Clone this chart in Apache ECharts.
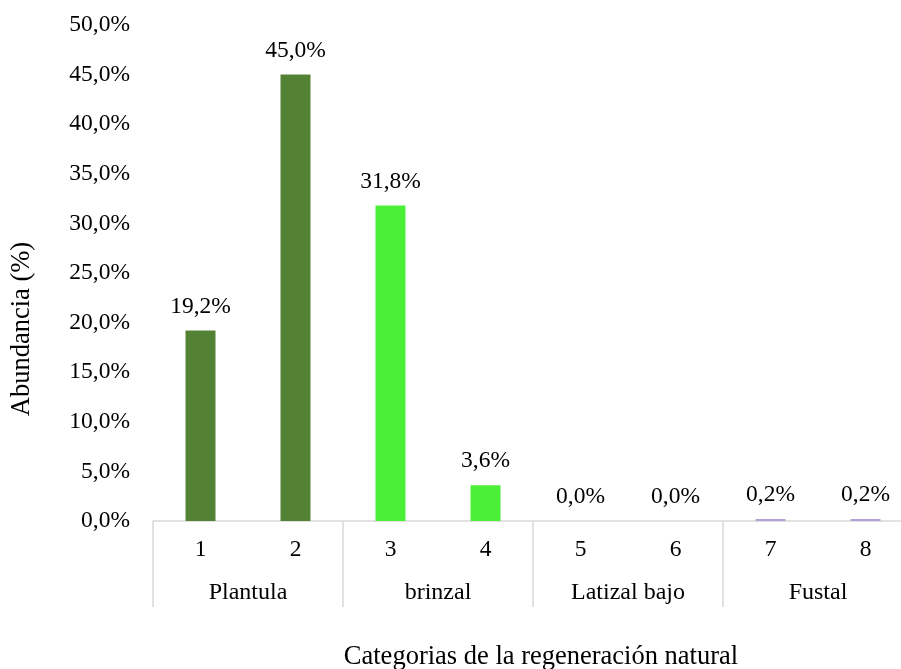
<!DOCTYPE html>
<html>
<head>
<meta charset="utf-8">
<script src="https://cdn.jsdelivr.net/npm/echarts@6/dist/echarts.min.js"></script>
<style>html,body{margin:0;padding:0;background:#fff;overflow:hidden;width:901px;height:669px;}#c{width:930px;height:669px;}</style>
</head>
<body>
<div id="c"></div>
<script>
var categories = ['1','2','3','4','5','6','7','8'];
var groups = ['Plantula','brinzal','Latizal bajo','Fustal'];
var values = [19.2, 45.0, 31.8, 3.6, 0.0, 0.0, 0.2, 0.2];
var barColors = ['#548235','#548235','#4CEF38','#4CEF38','#B4A7D6','#B4A7D6','#B4A0D8','#B4A0D8'];
var yTitle = 'Abundancia (%)';
var xTitle = 'Categorias de la regeneración natural';

var FONT = '"Liberation Serif", "Times New Roman", serif';
function pct(v){ return v.toFixed(1).replace('.', ',') + '%'; }

var chart = echarts.init(document.getElementById('c'));
chart.setOption({
  animation: false,
  textStyle: { fontFamily: FONT },
  grid: { left: 153, top: 25, width: 760, bottom: 148 },
  xAxis: [
    {
      type: 'category', data: categories, position: 'bottom',
      axisLine: { show: true, lineStyle: { color: '#d9d9d9', width: 1.5 } },
      axisTick: { show: false },
      axisLabel: { color: '#000', fontSize: 23.5, fontFamily: FONT, margin: 17 }
    },
    {
      type: 'category', data: groups, position: 'bottom',
      axisLine: { show: false },
      axisTick: { show: true, length: 86, interval: 0, lineStyle: { color: '#d9d9d9', width: 1.5 } },
      axisLabel: { color: '#000', fontSize: 24, fontFamily: FONT, margin: 60, interval: 0 }
    }
  ],
  yAxis: {
    type: 'value', min: 0, max: 50, interval: 5,
    axisLine: { show: false }, axisTick: { show: false },
    splitLine: { show: false },
    axisLabel: { color: '#000', fontSize: 23.5, fontFamily: FONT, margin: 23, padding: [5, 0, 0, 0],
      formatter: function(v){ return pct(v); } }
  },
  series: [{
    type: 'bar', xAxisIndex: 0, barWidth: 30,
    data: values.map(function(v, i){ return { value: v, itemStyle: { color: barColors[i] } }; }),
    label: { show: true, position: 'top', distance: 12, color: '#000', fontSize: 23.5, fontFamily: FONT,
      formatter: function(p){ return pct(p.value); } }
  }],
  graphic: [
    { type: 'text', x: 22, y: 329, rotation: Math.PI/2,
      style: { text: yTitle, font: '26.5px ' + FONT, fill: '#000', textAlign: 'center', textVerticalAlign: 'middle' } },
    { type: 'text', x: 541, y: 657,
      style: { text: xTitle, font: '26.5px ' + FONT, fill: '#000', textAlign: 'center', textVerticalAlign: 'middle' } }
  ]
});
</script>
</body>
</html>
